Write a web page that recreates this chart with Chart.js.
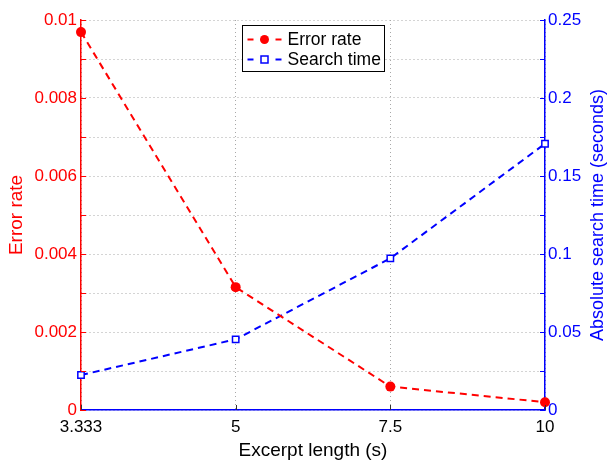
<!DOCTYPE html>
<html>
<head>
<meta charset="utf-8">
<script src="https://cdn.jsdelivr.net/npm/chart.js@4.4.0/dist/chart.umd.min.js"></script>
<style>
  html, body { margin: 0; padding: 0; background: #fff; }
</style>
</head>
<body>
<canvas id="chart" width="608" height="462"></canvas>
<script>
// values
const excerptLengths = ["3.333", "5", "7.5", "10"];
const errorRate = [0.00969, 0.00315, 0.0006, 0.0002];
const searchTime = [0.0224, 0.0453, 0.0972, 0.1707];

const FONT = "'Liberation Sans', Arial, Helvetica, sans-serif";
const RED = "#ff0000";
const BLUE = "#0000ff";
const GRID = "#a8a8a8";
const RIGHT_TITLE = "Absolute search time (seconds)";

const trim = v => String(parseFloat(v.toFixed(4)));

// inward tick marks, like the original plot
const innerTicks = {
  id: "innerTicks",
  afterDraw(chart) {
    const { ctx, chartArea: a, scales } = chart;
    ctx.save();
    ctx.lineWidth = 1;
    ctx.strokeStyle = RED;
    scales.yLeft.ticks.forEach(t => {
      const y = Math.round(scales.yLeft.getPixelForValue(t.value)) + 0.5;
      ctx.beginPath(); ctx.moveTo(a.left, y); ctx.lineTo(a.left + 5, y); ctx.stroke();
    });
    ctx.strokeStyle = BLUE;
    scales.yRight.ticks.forEach(t => {
      const y = Math.round(scales.yRight.getPixelForValue(t.value)) + 0.5;
      ctx.beginPath(); ctx.moveTo(a.right, y); ctx.lineTo(a.right - 5, y); ctx.stroke();
    });
    ctx.strokeStyle = "#333";
    scales.x.ticks.forEach((t, i) => {
      const x = Math.round(scales.x.getPixelForTick(i)) + 0.5;
      ctx.beginPath(); ctx.moveTo(x, a.bottom); ctx.lineTo(x, a.bottom - 5); ctx.stroke();
    });
    ctx.restore();
  }
};

// right axis title reads bottom-to-top in the original
const rightTitle = {
  id: "rightTitle",
  afterDraw(chart) {
    const { ctx, chartArea: a } = chart;
    ctx.save();
    ctx.translate(598, (a.top + a.bottom) / 2);
    ctx.rotate(-Math.PI / 2);
    ctx.font = "18px " + FONT;
    ctx.fillStyle = BLUE;
    ctx.textAlign = "center";
    ctx.textBaseline = "middle";
    ctx.fillText(RIGHT_TITLE, 0, 0);
    ctx.restore();
  }
};

// boxed legend at the top middle of the plot
const boxLegend = {
  id: "boxLegend",
  afterDraw(chart) {
    const { ctx, chartArea: a } = chart;
    const w = 142, h = 46;
    const x0 = Math.round((a.left + a.right) / 2 - w / 2) + 0.5;
    const y0 = a.top + 5 + 0.5;
    ctx.save();
    ctx.fillStyle = "#fff";
    ctx.fillRect(x0, y0, w, h);
    ctx.strokeStyle = "#000";
    ctx.lineWidth = 1;
    ctx.strokeRect(x0, y0, w, h);
    ctx.font = "17.5px " + FONT;
    ctx.textBaseline = "middle";
    chart.data.datasets.forEach((ds, i) => {
      const cy = y0 + 14 + i * 20;
      const lx = x0 + 5;
      ctx.strokeStyle = ds.borderColor;
      ctx.lineWidth = 2;
      ctx.setLineDash([]);
      ctx.beginPath(); ctx.moveTo(lx, cy); ctx.lineTo(lx + 6, cy); ctx.stroke();
      ctx.beginPath(); ctx.moveTo(lx + 28, cy); ctx.lineTo(lx + 34, cy); ctx.stroke();
      const mx = lx + 17;
      if (ds.pointStyle === "circle") {
        ctx.fillStyle = ds.pointBackgroundColor;
        ctx.beginPath(); ctx.arc(mx, cy, 4.5, 0, Math.PI * 2); ctx.fill();
      } else {
        ctx.fillStyle = "#fff";
        ctx.lineWidth = 1.5;
        ctx.fillRect(mx - 3.5, cy - 3.5, 7, 7);
        ctx.strokeRect(mx - 3.5, cy - 3.5, 7, 7);
      }
      ctx.fillStyle = "#000";
      ctx.fillText(ds.label, lx + 40, cy + 1);
    });
    ctx.restore();
  }
};

new Chart(document.getElementById("chart"), {
  type: "line",
  data: {
    labels: excerptLengths,
    datasets: [
      {
        label: "Error rate",
        data: errorRate,
        yAxisID: "yLeft",
        borderColor: RED,
        borderWidth: 2,
        borderDash: [7, 5],
        pointStyle: "circle",
        pointRadius: 5,
        pointBackgroundColor: RED,
        pointBorderColor: RED,
        pointBorderWidth: 0,
        tension: 0,
        clip: false
      },
      {
        label: "Search time",
        data: searchTime,
        yAxisID: "yRight",
        borderColor: BLUE,
        borderWidth: 2,
        borderDash: [7, 5],
        pointStyle: "rect",
        pointRadius: 4.5,
        pointBackgroundColor: "#fff",
        pointBorderColor: BLUE,
        pointBorderWidth: 1.5,
        tension: 0,
        clip: false
      }
    ]
  },
  options: {
    responsive: false,
    animation: false,
    devicePixelRatio: 1,
    layout: { padding: { top: 20, left: 0, right: 0, bottom: 0 } },
    plugins: { legend: { display: false }, tooltip: { enabled: false } },
    scales: {
      x: {
        type: "category",
        offset: false,
        afterFit: s => { s.height = 52; },
        grid: { color: GRID, drawTicks: false, offset: false },
        border: { color: BLUE, width: 1.5, dash: [1, 3] },
        ticks: { color: "#000", padding: 7, font: { family: FONT, size: 17 }, maxRotation: 0 },
        title: { display: true, text: "Excerpt length (s)", color: "#000",
                 font: { family: FONT, size: 19 }, padding: { top: 0, bottom: 0 } }
      },
      yLeft: {
        position: "left",
        min: 0,
        max: 0.01,
        afterFit: s => { s.width = 81; },
        grid: { color: GRID, drawTicks: false },
        border: { color: RED, width: 1.5, dash: [1, 3] },
        ticks: {
          stepSize: 0.001, autoSkip: false, color: RED, padding: 4,
          font: { family: FONT, size: 17 },
          callback: v => (Math.round(v * 1000) % 2 === 0 ? trim(v) : "")
        },
        title: { display: true, text: "Error rate", color: RED,
                 font: { family: FONT, size: 19 }, padding: { top: 5, bottom: 0 } }
      },
      yRight: {
        position: "right",
        min: 0,
        max: 0.25,
        afterFit: s => { s.width = 63; },
        grid: { drawOnChartArea: false, drawTicks: false },
        border: { color: BLUE, width: 1.5 },
        ticks: {
          stepSize: 0.025, autoSkip: false, color: BLUE, padding: 3,
          font: { family: FONT, size: 17 },
          callback: v => (Math.round(v * 1000) % 50 === 0 ? trim(v) : "")
        },
        title: { display: false }
      }
    }
  },
  plugins: [innerTicks, rightTitle, boxLegend]
});
</script>
</body>
</html>
